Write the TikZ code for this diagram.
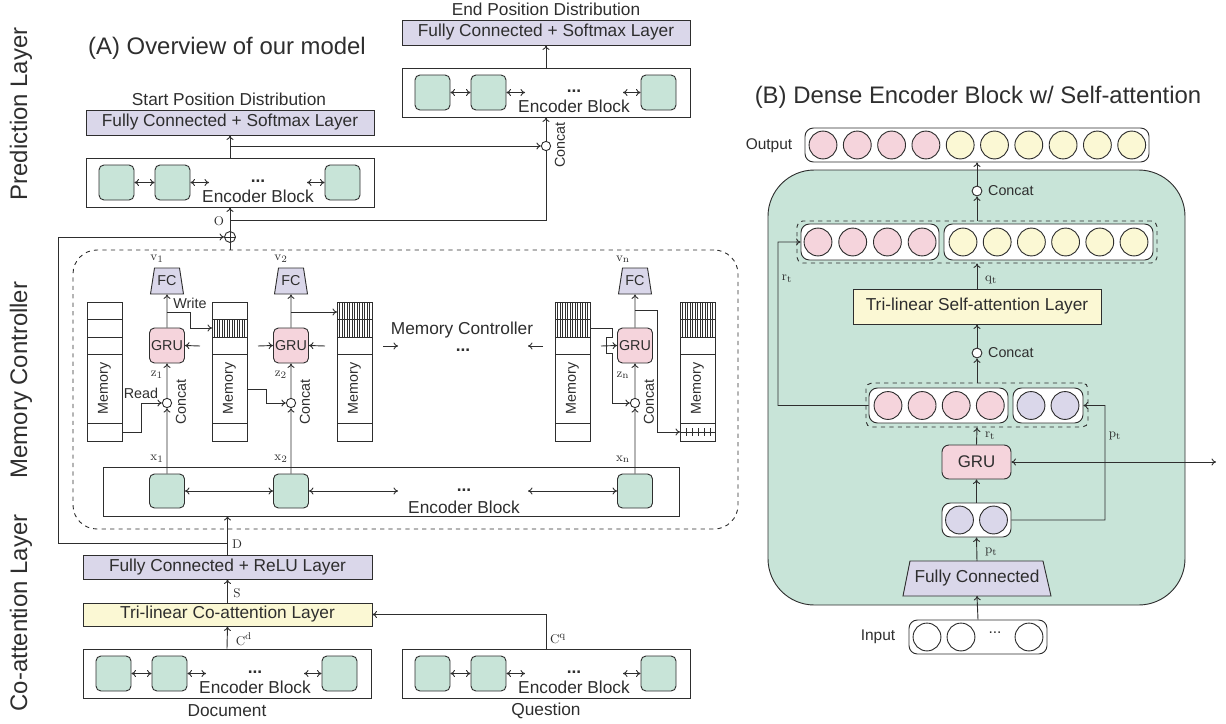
\documentclass[tikz,border=0pt]{standalone}
\usepackage[no-math]{fontspec}
\setmainfont{Liberation Sans}
\usetikzlibrary{fit,arrows.meta}
\definecolor{ln}{HTML}{2E2E2E}
\definecolor{lav}{HTML}{DAD7EA}
\definecolor{grn}{HTML}{C8E4D8}
\definecolor{pnk}{HTML}{F5D4DC}
\definecolor{ylw}{HTML}{FBF8D4}
\newcommand\ml[1]{{\fontsize{9.5}{10}\selectfont$\mathrm{#1}$}}
\newcommand\encb[3]{%
  \node[blk, fit={(#2,#3)({#2+288},{#3+49})}] (#1) {};
  \node[sq, fit={({#2+13},{#3+7})({#2+48},{#3+42})}] (#1a) {};
  \node[sq, fit={({#2+69},{#3+7})({#2+104},{#3+42})}] (#1b) {};
  \node[sq, fit={({#2+239},{#3+7})({#2+274},{#3+42})}] (#1c) {};
  \coordinate (#1p) at ({#2+123},{#3+24.5});
  \coordinate (#1q) at ({#2+221},{#3+24.5});
  \draw[<->] (#1a) -- (#1b);
  \draw[<->] (#1b) -- (#1p);
  \draw[<->] (#1q) -- (#1c);
  \node[lbl] (#1d) at ({#2+172},{#3+23}) {\textbf{...}};
  \node[lbl] (#1t) at ({#2+172},{#3+38}) {Encoder Block};
}
\newcommand\mem[2]{%
  \node[draw, fill=white, inner sep=0pt, fit={(#2,302)({#2+35},441)}] (#1) {};
  \draw ({#2},319) -- ++(35,0) ({#2},337) -- ++(35,0) ({#2},354) -- ++(35,0) ({#2},423) -- ++(35,0);
  \node[sml, rotate=90] (#1t) at ({#2+17.5},388.5) {Memory};
}
\newcommand\hatch[3]{%
  \foreach \k in {1,...,13} {\draw[line width=0.35pt] ({#1+\k*2.5},#2) -- ({#1+\k*2.5},#3);}
}
\newcommand\fcT[2]{%
  \draw[fill=lav] ({#2-12.5},268) -- ({#2+12.5},268) -- ({#2+16.5},294) -- ({#2-16.5},294) -- cycle;
  \node[sml, minimum height=18.4pt, minimum width=17pt, inner sep=0pt] (#1) at (#2,281) {FC};
}
\begin{document}
\begin{tikzpicture}[x=0.025cm,y=-0.025cm,line width=0.65pt,color=ln,>={To[length=3.2pt,width=5pt]},
  blk/.style={draw,fill=white,inner sep=0pt},
  sq/.style={draw,fill=grn,rounded corners=3.5pt,inner sep=0pt},
  fcb/.style={draw,fill=lav,inner sep=0pt},
  ylb/.style={draw,fill=ylw,inner sep=0pt},
  gru/.style={draw,fill=pnk,rounded corners=3.5pt,inner sep=0pt},
  cc/.style={draw,circle,fill=white,minimum size=6.6pt,inner sep=0pt},
  bigc/.style={draw,circle,minimum size=19.8pt,inner sep=0pt},
  lbl/.style={font=\fontsize{12.3}{14}\selectfont},
  sml/.style={font=\fontsize{10.2}{12}\selectfont},
  mid/.style={font=\fontsize{11}{13}\selectfont},
  big/.style={font=\fontsize{17}{20}\selectfont}]
\useasboundingbox (0,0) rectangle (1226,724);

% ---------------- side labels and titles
\node[big, rotate=90] (lp) at (21,114) {Prediction Layer};
\node[big, rotate=90] (lm) at (21,380) {Memory Controller};
\node[big, rotate=90] (lc) at (21,613) {Co-attention Layer};
\node[big] (ta) at (227,48) {(A) Overview of our model};

% ---------------- prediction layer
\node[lbl] (spd) at (229,99) {Start Position Distribution};
\node[fcb, fit={(86,110)(374,135)}, label={[lbl,name=sfct]center:Fully Connected + Softmax Layer}] (sfc) {};
\encb{se}{86}{158}
\draw[->] (se.north) -- (sfc.south);

\node[lbl] (epd) at (546,9) {End Position Distribution};
\node[fcb, fit={(402,20)(690,45)}, label={[lbl,name=efct]center:Fully Connected + Softmax Layer}] (efc) {};
\encb{ee}{402}{68}
\draw[->] (ee.north) -- (efc.south);

\node[cc] (ecc) at (546,146) {};
\node[sml, rotate=90] (ecl) at (560,145) {Concat};
\draw[->] (ecc.north) -- (ee.south);
\coordinate (j1) at (230,146);
\draw[->] (j1) -- (ecc.west);

\node[draw, circle, fill=white, minimum size=7.8pt, inner sep=0pt] (op) at (230,237) {};
\draw (op.north) -- (op.south) (op.west) -- (op.east);
\node (olab) at (219,221) {\ml{O}};
\draw[->] (op.north) -- (se.south);
\coordinate (j2) at (230,220);
\coordinate (j3) at (546,220);
\draw (j2) -- (j3) -- (ecc.south);
\coordinate (mtop) at (230,250);
\draw (mtop) -- (op.south);

% ---------------- memory controller
\node[draw, dashed, rounded corners=17pt, inner sep=0pt, fit={(73,250)(738,529)}] (mc) {};

\node[blk, fit={(103,467)(679,516)}] (me) {};
\node[sq, fit={(149.5,474)(184.5,508)}] (me1) {};
\node[sq, fit={(273.5,474)(308.5,508)}] (me2) {};
\node[sq, fit={(617.5,474)(652.5,508)}] (me3) {};
\coordinate (ma) at (398,491);
\coordinate (mb) at (528,491);
\draw[<->] (me1) -- (me2);
\draw[<->] (me2) -- (ma);
\draw[<->] (mb) -- (me3);
\node[lbl] (med) at (464,490) {\textbf{...}};
\node[lbl] (met) at (464,507) {Encoder Block};

\mem{m1}{87}
\mem{m2}{212}
\mem{m3}{337}
\mem{m4}{555}
\mem{m5}{680}
\hatch{212}{319}{337}
\hatch{337}{302}{319}
\hatch{337}{319}{337}
\hatch{555}{302}{319}
\hatch{555}{319}{337}
\hatch{680}{302}{319}
\hatch{680}{319}{337}
\coordinate (m5p) at (680,432);
\coordinate (m5q) at (715,432);
\draw (m5p) -- (m5q);
\foreach \k in {1,...,5} {\draw[line width=0.4pt] ({680+\k*6},428) -- ({680+\k*6},436);}

\fcT{f1}{167}
\fcT{f2}{291}
\fcT{fn}{635}
\node[gru, fit={(149.5,328)(184.5,363)}, label={[sml,name=g1t]center:GRU}] (g1) {};
\node[gru, fit={(273.5,328)(308.5,363)}, label={[sml,name=g2t]center:GRU}] (g2) {};
\node[gru, fit={(617.5,328)(652.5,363)}, label={[sml,name=gnt]center:GRU}] (gn) {};
\node[cc] (c1) at (167,403) {};
\node[cc] (c2) at (291,403) {};
\node[cc] (cn) at (635,403) {};
\node[sml, rotate=90] (c1l) at (181,402) {Concat};
\node[sml, rotate=90] (c2l) at (305,402) {Concat};
\node[sml, rotate=90] (cnl) at (649,402) {Concat};

\node (v1) at (157,259) {\ml{v_1}};
\node (v2) at (281,259) {\ml{v_2}};
\node (vn) at (623,259) {\ml{v_n}};
\node (z1) at (157,375) {\ml{z_1}};
\node (z2) at (281,375) {\ml{z_2}};
\node (zn) at (623,375) {\ml{z_n}};
\node (x1) at (157,459) {\ml{x_1}};
\node (x2) at (281,459) {\ml{x_2}};
\node (xn) at (623,459) {\ml{x_n}};

\foreach \g/\f/\c/\e in {g1/f1/c1/me1, g2/f2/c2/me2, gn/fn/cn/me3} {
  \draw[->] (\g.north) -- (\f.south);
  \draw[->] (\c.north) -- (\g.south);
  \draw[->] (\e.north) -- (\c.south);
}

% write / read paths
\node[sml] (wr) at (190,303) {Write};
\node[sml] (rd) at (141,393) {Read};
\coordinate (w1a) at (167,312);
\coordinate (w1b) at (190,312);
\coordinate (w1c) at (190,328);
\coordinate (w1d) at (212,328);
\draw[->] (w1a) -- (w1b) -- (w1c) -- (w1d);
\coordinate (r1a) at (122,432);
\coordinate (r1b) at (141,432);
\coordinate (r1c) at (141,403);
\draw[->] (r1a) -- (r1b) -- (r1c) -- (c1.west);

\coordinate (w2a) at (291,312);
\coordinate (w2b) at (337,312);
\draw[->] (w2a) -- (w2b);
\coordinate (r2a) at (247,389);
\coordinate (r2b) at (266,389);
\coordinate (r2c) at (266,403);
\draw[->] (r2a) -- (r2b) -- (r2c) -- (c2.west);

\coordinate (wna) at (635,310);
\coordinate (wnb) at (657,310);
\coordinate (wnc) at (657,432);
\draw[->] (wna) -- (wnb) -- (wnc) -- (m5p);
\coordinate (rna) at (590,328);
\coordinate (rnb) at (612,328);
\coordinate (rnc) at (612,337);
\coordinate (rnd) at (606,337);
\coordinate (rne) at (606,353);
\coordinate (rnf) at (612,353);
\coordinate (rng) at (612,403);
\draw[->] (rna) -- (rnb) -- (rnc) -- (rnd) -- (rne) -- (rnf) -- (rng) -- (cn.west);

% recurrent inputs
\coordinate (i1) at (200,346);
\coordinate (i2) at (258,346);
\coordinate (i3) at (325,346);
\coordinate (i4a) at (383,346);
\coordinate (i4b) at (398,346);
\coordinate (i5a) at (543,346);
\coordinate (i5b) at (528,346);
\coordinate (i6) at (601,346);
\draw[->] (i1) -- (g1.east);
\draw[->] (i2) -- (g2.west);
\draw[->] (i3) -- (g2.east);
\draw[->] (i4a) -- (i4b);
\draw[->] (i5a) -- (i5b);
\draw[->] (i6) -- (gn.west);
\node[lbl] (mct) at (462,330) {Memory Controller};
\node[lbl] (mcd) at (463,350) {\textbf{...}};

% ---------------- co-attention layer
\node[fcb, fit={(83,555)(372,579)}, label={[lbl,name=rfct]center:Fully Connected + ReLU Layer}] (rfc) {};
\node[ylb, fit={(83,603)(372,626)}, label={[lbl,name=trit]center:Tri-linear Co-attention Layer}] (tri) {};
\encb{de}{83}{649}
\encb{qe}{402}{649}
\node[lbl] (doc) at (227,711) {Document};
\node[lbl] (qst) at (546,711) {Question};
\draw[->] (de.north) -- (tri.south);
\draw[->] (tri.north) -- (rfc.south);
\coordinate (mbot) at (227.5,516);
\draw[->] (rfc.north) -- (mbot);
\draw[->] (qe.north) |- (tri.east);
\coordinate (d0) at (227.5,543);
\coordinate (l1) at (58,543);
\coordinate (l2) at (58,237);
\draw[->] (d0) -- (l1) -- (l2) -- (op.west);
\node (dl) at (237,544) {\ml{D}};
\node (sl) at (237,593) {\ml{S}};
\node (cdl) at (244,639) {\ml{C^d}};
\node (cql) at (558,639) {\ml{C^q}};

% ---------------- (B) dense encoder block
\node[big] (tb) at (978,97) {(B) Dense Encoder Block w/ Self-attention};
\node[draw, fill=grn, rounded corners=33pt, inner sep=0pt, fit={(768,170)(1185,605)}] (gb) {};

\node[mid] (outl) at (769,146) {Output};
\node[blk, rounded corners=6pt, fit={(805,128)(1149,162)}] (ob) {};
\foreach \i in {0,...,3} {\node[bigc, fill=pnk] (o\i) at ({823+34.3*\i},145) {};}
\foreach \i in {4,...,9} {\node[bigc, fill=ylw] (o\i) at ({823+34.3*\i},145) {};}

\node[cc, minimum size=7pt] (bc1) at (977,191) {};
\node[sml, anchor=west] (bc1l) at (983,191) {Concat};
\draw[->] (bc1.north) -- (ob.south);

\node[draw, dashed, rounded corners=4pt, inner sep=0pt, fit={(797,221)(1157,263)}] (dg1) {};
\node[blk, rounded corners=6pt, fit={(801,224)(939,260)}] (pg1) {};
\foreach \i in {0,...,3} {\node[bigc, fill=pnk] (p\i) at ({818+34.7*\i},242) {};}
\node[blk, rounded corners=6pt, fit={(944,224)(1153,260)}] (yg1) {};
\foreach \i in {0,...,5} {\node[bigc, fill=ylw] (y\i) at ({963+34.2*\i},242) {};}
\draw[->] (dg1.north) -- (bc1.south);

\node[ylb, fit={(853,289)(1101,324)}, label={[lbl,name=tsat]center:Tri-linear Self-attention Layer}] (tsa) {};
\draw[->] (tsa.north) -- (dg1.south);
\node[anchor=west] (qtl) at (980,280) {\ml{q_t}};

\node[cc, minimum size=7pt] (bc2) at (977,353) {};
\node[sml, anchor=west] (bc2l) at (983,353) {Concat};
\draw[->] (bc2.north) -- (tsa.south);

\node[draw, dashed, rounded corners=4pt, inner sep=0pt, fit={(866,383)(1088,427)}] (dg2) {};
\node[blk, rounded corners=6pt, fit={(869,388)(1008,423)}] (pg2) {};
\foreach \i in {0,...,3} {\node[bigc, fill=pnk] (q\i) at ({888+34.1*\i},405.5) {};}
\node[blk, rounded corners=6pt, fit={(1013,388)(1083,423)}] (lg2) {};
\foreach \i in {0,1} {\node[bigc, fill=lav] (l\i) at ({1031+34*\i},405.5) {};}
\draw[->] (dg2.north) -- (bc2.south);

\coordinate (rl1) at (778,405.5);
\coordinate (rl2) at (778,242);
\draw[->] (pg2.west) -- (rl1) -- (rl2) -- (pg1.west);
\node (rtl) at (787,279) {\ml{r_t}};

\node[gru, rounded corners=5pt, fit={(942,445)(1011,479)}, label={[font=\fontsize{12}{14}\selectfont,name=bgt]center:GRU}] (bg) {};
\draw[->] (bg.north) -- (dg2.south);
\node[anchor=west] (rtl2) at (980,436) {\ml{r_t}};
\coordinate (gr) at (1216,462);
\draw[<->] (bg.east) -- (gr);

\node[blk, rounded corners=6pt, fit={(942,503)(1011,537)}] (pr) {};
\foreach \i in {0,1} {\node[bigc, fill=lav] (pp\i) at ({959.5+34*\i},520) {};}
\draw[->] (pr.north) -- (bg.south);
\coordinate (pt1) at (1105,520);
\coordinate (pt2) at (1105,405.5);
\draw[->] (pr.east) -- (pt1) -- (pt2) -- (lg2.east);
\node (ptl) at (1115,436) {\ml{p_t}};

\draw[fill=lav] (910,561) -- (1043,561) -- (1051,596) -- (903,596) -- cycle;
\node[lbl, minimum height=24pt, minimum width=90pt, inner sep=0pt] (bfc) at (977,578.5) {Fully Connected};
\draw[->] (bfc.north) -- (pr.south);
\node[anchor=west] (ptl2) at (980,552) {\ml{p_t}};

\node[blk, rounded corners=6pt, fit={(909,620)(1047,654)}] (ib) {};
\node[bigc, fill=white] (in1) at (927,637) {};
\node[bigc, fill=white] (in2) at (961,637) {};
\node[mid] (ind) at (995,633) {...};
\node[bigc, fill=white] (in3) at (1029,637) {};
\node[mid] (inl) at (878,637) {Input};
\draw[->] (ib.north) -- (bfc.south);
\end{tikzpicture}
\end{document}
